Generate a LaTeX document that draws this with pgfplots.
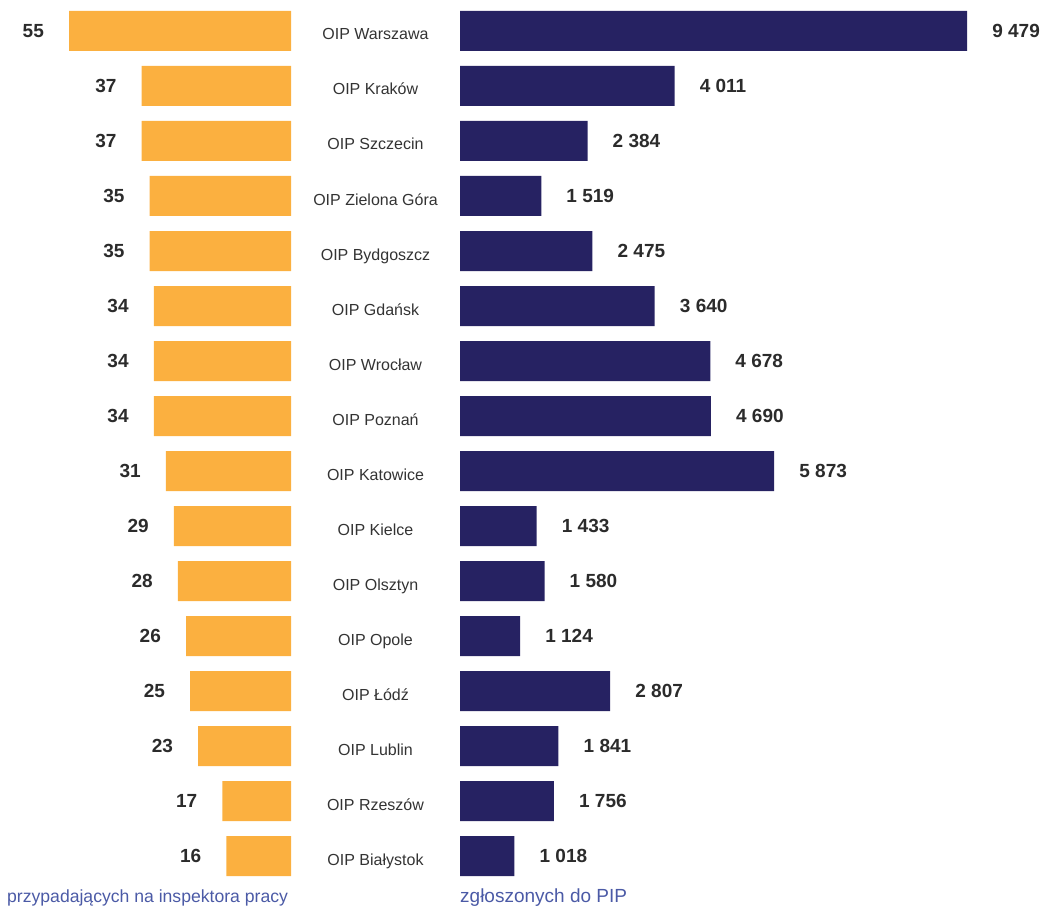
\documentclass[border=0pt]{standalone}
\usepackage{pgfplots}
\pgfplotsset{compat=1.18}
\usepackage{pgfplotstable}
\usepackage{fontspec}
\setmainfont{Liberation Sans}
\definecolor{barorange}{HTML}{FBB040}
\definecolor{barnavy}{HTML}{262262}
\definecolor{numgray}{HTML}{2B2B2B}
\definecolor{catgray}{HTML}{333333}
\definecolor{footblue}{HTML}{4B5AA6}
\pgfplotstableread{
idx left right
0 55 9479
1 37 4011
2 37 2384
3 35 1519
4 35 2475
5 34 3640
6 34 4678
7 34 4690
8 31 5873
9 29 1433
10 28 1580
11 26 1124
12 25 2807
13 23 1841
14 17 1756
15 16 1018
}\datatable
\begin{document}
\begin{tikzpicture}
\useasboundingbox (0,0) rectangle (1045pt,907pt);
\begin{axis}[
  at={(291pt,876pt)}, anchor=origin,
  scale only axis, x=4.036pt, y=55pt, y dir=reverse,
  xmin=-72.1, xmax=0, ymin=-0.5, ymax=15.5,
  hide axis, xbar, bar width=40pt,
  nodes near coords, point meta=explicit,
  every node near coord/.append style={font=\fontsize{19}{22}\selectfont\bfseries, text=numgray, anchor=east, inner sep=0pt, xshift=-25pt},
  /pgf/number format/assume math mode=true,
]
\addplot[fill=barorange, draw=none] table[x expr=-\thisrow{left}, y=idx, meta=left] {\datatable};
\end{axis}
\begin{axis}[
  at={(460pt,876pt)}, anchor=origin,
  scale only axis, x=0.05349pt, y=55pt, y dir=reverse,
  xmin=0, xmax=10900, ymin=-0.5, ymax=15.5,
  xbar, bar width=40pt,
  hide x axis, axis y line*=left, y axis line style={draw=none}, ytick style={draw=none}, major tick length=0pt,
  ytick={0,...,15},
  yticklabels={OIP Warszawa, OIP Kraków, OIP Szczecin, OIP Zielona Góra, OIP Bydgoszcz, OIP Gdańsk, OIP Wrocław, OIP Poznań, OIP Katowice, OIP Kielce, OIP Olsztyn, OIP Opole, OIP Łódź, OIP Lublin, OIP Rzeszów, OIP Białystok},
  yticklabel style={font=\fontsize{16}{19}\selectfont, text=catgray, anchor=base, inner sep=0pt, xshift=-84.5pt, yshift=-9pt},
  nodes near coords, point meta=explicit,
  every node near coord/.append style={font=\fontsize{19}{22}\selectfont\bfseries, text=numgray, anchor=west, inner sep=0pt, xshift=25pt},
  /pgf/number format/assume math mode=true,
  /pgf/number format/1000 sep={\ },
]
\addplot[fill=barnavy, draw=none] table[x=right, y=idx, meta=right] {\datatable};
\end{axis}
\node[anchor=base west, font=\fontsize{17.6}{20}\selectfont, text=footblue, inner sep=0pt] at (7pt,4pt) {przypadających na inspektora pracy};
\node[anchor=base west, font=\fontsize{19}{22}\selectfont, text=footblue, inner sep=0pt] at (460pt,4pt) {zgłoszonych do PIP};
\end{tikzpicture}
\end{document}
